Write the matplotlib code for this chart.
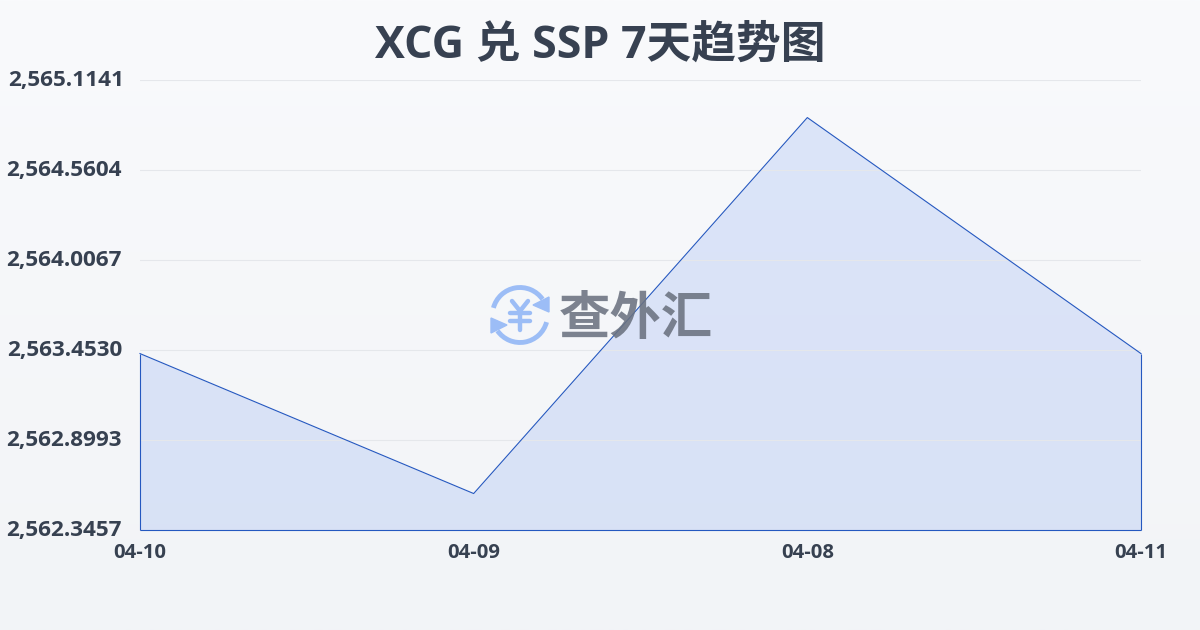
import numpy as np
from matplotlib import pyplot as plt
from matplotlib.colors import LinearSegmentedColormap
from matplotlib.patches import Arc, Polygon
from matplotlib.transforms import ScaledTranslation

plt.rcParams['font.family'] = ['Open Sans', 'Noto Sans CJK SC', 'DejaVu Sans']

title = 'XCG 兑 SSP 7天趋势图'
dates = ['04-10', '04-09', '04-08', '04-11']
rates = [2563.4310, 2562.5700, 2564.8830, 2563.4310]
y_ticks = [2562.3457, 2562.8993, 2563.4530, 2564.0067, 2564.5604, 2565.1141]

W, H = 1200, 630
text_color = '#374151'
line_color = '#2558c0'

fig = plt.figure(figsize=(W / 100, H / 100), dpi=100)

# page background, light vertical gradient
bg = fig.add_axes([0, 0, 1, 1], zorder=0)
bg.imshow(np.linspace(0, 1, 256).reshape(-1, 1), aspect='auto', extent=[0, W, H, 0],
          cmap=LinearSegmentedColormap.from_list('bg', ['#f9fafc', '#f2f4f7']))
bg.axis('off')

ax = fig.add_axes([140 / W, 1 - 530 / H, 1001 / W, 450 / H], zorder=1)
ax.patch.set_alpha(0)
x = np.arange(len(dates))
ax.set_xlim(0, len(dates) - 1)
ax.set_ylim(y_ticks[0], y_ticks[-1])
ax.grid(axis='y', color='#e5e7eb', linewidth=0.8, zorder=2)
ax.set_axisbelow(False)
ax.fill_between(x, rates, y_ticks[0], color='#2563eb', alpha=0.13, linewidth=0, zorder=1)
ax.plot(x, rates, color=line_color, linewidth=0.8, zorder=3, clip_on=False)
ax.vlines([x[0], x[-1]], y_ticks[0], [rates[0], rates[-1]], color=line_color, linewidth=0.8,
          zorder=3, clip_on=False)
ax.hlines(y_ticks[0], x[0], x[-1], color=line_color, linewidth=0.8, zorder=3, clip_on=False)
for s in ax.spines.values():
    s.set_visible(False)

ax.set_xticks(x, dates)
ax.set_yticks(y_ticks, [f'{v:,.4f}' for v in y_ticks])
ax.tick_params(axis='x', length=0, pad=9.5, labelsize=14.6, labelcolor=text_color)
ax.tick_params(axis='y', length=0, pad=13, labelsize=16.2, labelcolor=text_color)
for lab in ax.get_xticklabels() + ax.get_yticklabels():
    lab.set_fontweight('bold')
up = ScaledTranslation(0, 1.5 / 72, fig.dpi_scale_trans)
for lab in ax.get_yticklabels():
    lab.set_transform(lab.get_transform() + up)
top_lab = ax.get_yticklabels()[-1]
top_lab.set_transform(top_lab.get_transform() + ScaledTranslation(2 / 100, 0, fig.dpi_scale_trans))

fig.text(600 / W, 1 - 46 / H, title, ha='center', va='center', fontsize=32.2,
         fontweight='bold', color=text_color)

# watermark logo in pixel coordinates
over = fig.add_axes([0, 0, 1, 1], zorder=2)
over.set_xlim(0, W)
over.set_ylim(H, 0)
over.axis('off')
blue = '#9cbdf6'
over.add_patch(Arc((520, 315), 55, 55, theta1=195, theta2=325, color=blue, lw=3.5))
over.add_patch(Arc((520, 315), 55, 55, theta1=15, theta2=145, color=blue, lw=3.5))
over.add_patch(Polygon([(549, 297), (549, 312), (533, 305)], color=blue))
over.add_patch(Polygon([(491, 318), (491, 333), (507, 325)], color=blue))
# yen sign strokes
yen = dict(color=blue, lw=3.2, solid_capstyle='round')
over.plot([512, 520, 528], [301, 311, 301], **yen)
over.plot([520, 520], [311, 330], **yen)
over.plot([510, 530], [313, 313], **yen)
over.plot([510, 530], [321, 321], **yen)
over.text(636, 321, '查外汇', ha='center', va='center', fontsize=37, fontweight='bold',
          color='#6b7280', alpha=0.88)

fig.savefig('out.png', dpi=100)
